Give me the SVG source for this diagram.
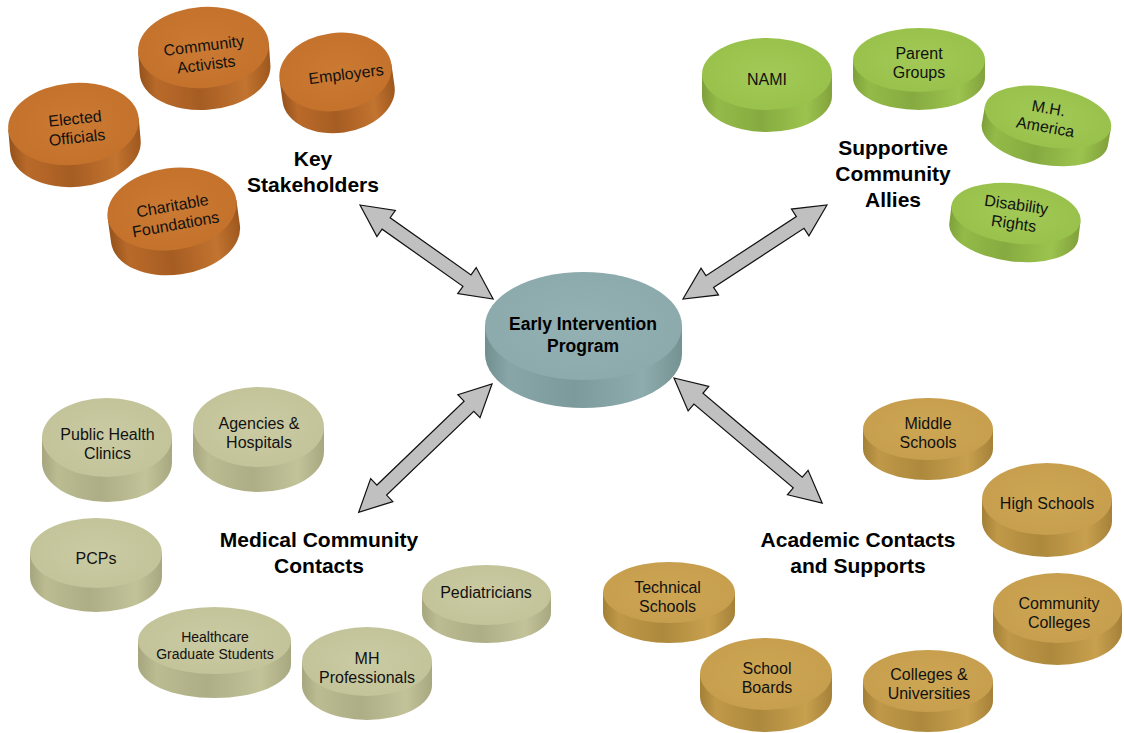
<svg xmlns="http://www.w3.org/2000/svg" width="1124" height="733" viewBox="0 0 1124 733">
<defs>
<radialGradient id="oTop" cx="0.5" cy="0.5" r="0.55"><stop offset="0" stop-color="#cb7a33"/><stop offset="1" stop-color="#c4722b"/></radialGradient>
<linearGradient id="oSide" x1="0" y1="0" x2="1" y2="0"><stop offset="0" stop-color="#96531c"/><stop offset="0.12" stop-color="#b96a2a"/><stop offset="0.45" stop-color="#a65d22"/><stop offset="0.8" stop-color="#c27430"/><stop offset="1" stop-color="#9e571d"/></linearGradient>
<radialGradient id="gTop" cx="0.5" cy="0.5" r="0.55"><stop offset="0" stop-color="#a2c956"/><stop offset="1" stop-color="#98c14b"/></radialGradient>
<linearGradient id="gSide" x1="0" y1="0" x2="1" y2="0"><stop offset="0" stop-color="#7ea03a"/><stop offset="0.12" stop-color="#93bb48"/><stop offset="0.45" stop-color="#86aa40"/><stop offset="0.8" stop-color="#9cc34e"/><stop offset="1" stop-color="#82a23c"/></linearGradient>
<radialGradient id="kTop" cx="0.5" cy="0.5" r="0.55"><stop offset="0" stop-color="#cbcba3"/><stop offset="1" stop-color="#c3c39a"/></radialGradient>
<linearGradient id="kSide" x1="0" y1="0" x2="1" y2="0"><stop offset="0" stop-color="#a6a67f"/><stop offset="0.12" stop-color="#bcbc92"/><stop offset="0.45" stop-color="#adad86"/><stop offset="0.8" stop-color="#c3c39a"/><stop offset="1" stop-color="#a8a880"/></linearGradient>
<radialGradient id="yTop" cx="0.5" cy="0.5" r="0.55"><stop offset="0" stop-color="#cda654"/><stop offset="1" stop-color="#c69e4d"/></radialGradient>
<linearGradient id="ySide" x1="0" y1="0" x2="1" y2="0"><stop offset="0" stop-color="#a38037"/><stop offset="0.12" stop-color="#c09848"/><stop offset="0.45" stop-color="#ad893d"/><stop offset="0.8" stop-color="#c8a04e"/><stop offset="1" stop-color="#a58139"/></linearGradient>
<radialGradient id="tTop" cx="0.5" cy="0.5" r="0.55"><stop offset="0" stop-color="#93b1b2"/><stop offset="1" stop-color="#8caaab"/></radialGradient>
<linearGradient id="tSide" x1="0" y1="0" x2="1" y2="0"><stop offset="0" stop-color="#728f90"/><stop offset="0.12" stop-color="#88a6a7"/><stop offset="0.45" stop-color="#7c9a9b"/><stop offset="0.8" stop-color="#8eacad"/><stop offset="1" stop-color="#759293"/></linearGradient>
</defs>
<style>
.n{font-family:"Liberation Sans",Arial,sans-serif;font-size:16px;fill:#111;text-anchor:middle}
.s{font-size:14px}
.h{font-family:"Liberation Sans",Arial,sans-serif;font-size:21px;font-weight:bold;fill:#000;text-anchor:middle}
.c{font-size:17.5px}
.arrow{fill:#c0c0c0;stroke:#111;stroke-width:1.2;stroke-linejoin:miter}
.o .top{fill:url(#oTop)} .o .side{fill:url(#oSide)}
.g .top{fill:url(#gTop)} .g .side{fill:url(#gSide)}
.k .top{fill:url(#kTop)} .k .side{fill:url(#kSide)}
.y .top{fill:url(#yTop)} .y .side{fill:url(#ySide)}
.t .top{fill:url(#tTop)} .t .side{fill:url(#tSide)}
</style>
<rect width="1124" height="733" fill="#fff"/>

<g id="connectors">
<path class="arrow" transform="translate(360,205) rotate(35.25)" d="M0,0 L32,-16 L32,-7 L131,-7 L131,-16 L163,0 L131,16 L131,7 L32,7 L32,16 Z"/>
<path class="arrow" transform="translate(827,205) rotate(146.87)" d="M0,0 L32,-16 L32,-7 L140,-7 L140,-16 L172,0 L140,16 L140,7 L32,7 L32,16 Z"/>
<path class="arrow" transform="translate(492,384) rotate(136.1)" d="M0,0 L32,-16 L32,-7 L153,-7 L153,-16 L185,0 L153,16 L153,7 L32,7 L32,16 Z"/>
<path class="arrow" transform="translate(674,378) rotate(40.18)" d="M0,0 L32,-16 L32,-7 L162,-7 L162,-16 L194,0 L162,16 L162,7 L32,7 L32,16 Z"/>
</g>

<g id="early-intervention" class="t">
<g transform="translate(583.5,326)">
<path class="side" d="M-98.5,0 L-98.5,28 A98.5,54 0 0 0 98.5,28 L98.5,0 Z"/>
<ellipse class="top" cx="0" cy="0" rx="98.5" ry="54"/>
</g>
<text class="h c" x="583" y="330">Early Intervention</text>
<text class="h c" x="583" y="352">Program</text>
</g>

<g id="label-key-stakeholders">
<text class="h" x="313" y="166">Key</text>
<text class="h" x="313" y="192">Stakeholders</text>
</g>
<g id="community-activists" class="o">
<g transform="translate(203.5,47.5) rotate(-4)">
<path class="side" d="M-65.5,0 L-65.5,22 A65.5,40.5 0 0 0 65.5,22 L65.5,0 Z"/>
<ellipse class="top" rx="65.5" ry="40.5"/>
</g>
<text class="n" transform="translate(205,55) rotate(-7)"><tspan x="0" y="-4">Community</tspan><tspan x="0" y="15">Activists</tspan></text>
</g>
<g id="elected-officials" class="o">
<g transform="translate(73.5,124) rotate(-5)">
<path class="side" d="M-65.5,0 L-65.5,22 A65.5,41 0 0 0 65.5,22 L65.5,0 Z"/>
<ellipse class="top" rx="65.5" ry="41"/>
</g>
<text class="n" transform="translate(76,128) rotate(-6)"><tspan x="0" y="-4">Elected</tspan><tspan x="0" y="15">Officials</tspan></text>
</g>
<g id="employers" class="o">
<g transform="translate(335.5,72) rotate(-8)">
<path class="side" d="M-56.5,0 L-56.5,22 A56.5,39 0 0 0 56.5,22 L56.5,0 Z"/>
<ellipse class="top" rx="56.5" ry="39"/>
</g>
<text class="n" transform="translate(346,74) rotate(-7)" x="0" y="5.6">Employers</text>
</g>
<g id="charitable-foundations" class="o">
<g transform="translate(172,209) rotate(-8)">
<path class="side" d="M-65,0 L-65,25 A65,41 0 0 0 65,25 L65,0 Z"/>
<ellipse class="top" rx="65" ry="41"/>
</g>
<text class="n" transform="translate(174,215) rotate(-10)"><tspan x="0" y="-4">Charitable</tspan><tspan x="0" y="15">Foundations</tspan></text>
</g>

<g id="label-supportive">
<text class="h" x="893" y="155">Supportive</text>
<text class="h" x="893" y="181">Community</text>
<text class="h" x="893" y="207">Allies</text>
</g>
<g id="nami" class="g">
<g transform="translate(767,74)">
<path class="side" d="M-65,0 L-65,22 A65,36 0 0 0 65,22 L65,0 Z"/>
<ellipse class="top" rx="65" ry="36"/>
</g>
<text class="n" x="767" y="85">NAMI</text>
</g>
<g id="parent-groups" class="g">
<g transform="translate(919,60)">
<path class="side" d="M-66,0 L-66,18 A66,32 0 0 0 66,18 L66,0 Z"/>
<ellipse class="top" rx="66" ry="32"/>
</g>
<text class="n" transform="translate(919,62.5)"><tspan x="0" y="-4">Parent</tspan><tspan x="0" y="15">Groups</tspan></text>
</g>
<g id="mh-america" class="g">
<g transform="translate(1048,117) rotate(10)">
<path class="side" d="M-64,0 L-64,18 A64,30 0 0 0 64,18 L64,0 Z"/>
<ellipse class="top" rx="64" ry="30"/>
</g>
<text class="n" transform="translate(1047,117.5) rotate(10)"><tspan x="0" y="-4">M.H.</tspan><tspan x="0" y="15">America</tspan></text>
</g>
<g id="disability-rights" class="g">
<g transform="translate(1016,213.5) rotate(7)">
<path class="side" d="M-65,0 L-65,18 A65,30 0 0 0 65,18 L65,0 Z"/>
<ellipse class="top" rx="65" ry="30"/>
</g>
<text class="n" transform="translate(1015,214) rotate(8)"><tspan x="0" y="-4">Disability</tspan><tspan x="0" y="15">Rights</tspan></text>
</g>

<g id="label-medical">
<text class="h" x="319" y="547">Medical Community</text>
<text class="h" x="319" y="573">Contacts</text>
</g>
<g id="public-health-clinics" class="k">
<g transform="translate(107,437.5)">
<path class="side" d="M-65,0 L-65,25 A65,39.5 0 0 0 65,25 L65,0 Z"/>
<ellipse class="top" rx="65" ry="39.5"/>
</g>
<text class="n" transform="translate(107.5,444)"><tspan x="0" y="-4">Public Health</tspan><tspan x="0" y="15">Clinics</tspan></text>
</g>
<g id="agencies-hospitals" class="k">
<g transform="translate(258.5,427)">
<path class="side" d="M-65.5,0 L-65.5,25 A65.5,40 0 0 0 65.5,25 L65.5,0 Z"/>
<ellipse class="top" rx="65.5" ry="40"/>
</g>
<text class="n" transform="translate(259,433)"><tspan x="0" y="-4">Agencies &amp;</tspan><tspan x="0" y="15">Hospitals</tspan></text>
</g>
<g id="pcps" class="k">
<g transform="translate(96,553)">
<path class="side" d="M-66,0 L-66,24 A66,35 0 0 0 66,24 L66,0 Z"/>
<ellipse class="top" rx="66" ry="35"/>
</g>
<text class="n" x="96" y="563.6">PCPs</text>
</g>
<g id="healthcare-graduate-students" class="k">
<g transform="translate(214.5,640.5)">
<path class="side" d="M-76.5,0 L-76.5,24 A76.5,33.5 0 0 0 76.5,24 L76.5,0 Z"/>
<ellipse class="top" rx="76.5" ry="33.5"/>
</g>
<text class="n s" transform="translate(215,646)"><tspan x="0" y="-4">Healthcare</tspan><tspan x="0" y="13">Graduate Students</tspan></text>
</g>
<g id="mh-professionals" class="k">
<g transform="translate(367,661.5)">
<path class="side" d="M-65,0 L-65,24 A65,34.5 0 0 0 65,24 L65,0 Z"/>
<ellipse class="top" rx="65" ry="34.5"/>
</g>
<text class="n" transform="translate(367,667.5)"><tspan x="0" y="-4">MH</tspan><tspan x="0" y="15">Professionals</tspan></text>
</g>
<g id="pediatricians" class="k">
<g transform="translate(486.5,595)">
<path class="side" d="M-64.5,0 L-64.5,18 A64.5,30 0 0 0 64.5,18 L64.5,0 Z"/>
<ellipse class="top" rx="64.5" ry="30"/>
</g>
<text class="n" x="486" y="598">Pediatricians</text>
</g>

<g id="label-academic">
<text class="h" x="858" y="547">Academic Contacts</text>
<text class="h" x="858" y="573">and Supports</text>
</g>
<g id="middle-schools" class="y">
<g transform="translate(928,429)">
<path class="side" d="M-65,0 L-65,20 A65,31 0 0 0 65,20 L65,0 Z"/>
<ellipse class="top" rx="65" ry="31"/>
</g>
<text class="n" transform="translate(928,433)"><tspan x="0" y="-4">Middle</tspan><tspan x="0" y="15">Schools</tspan></text>
</g>
<g id="high-schools" class="y">
<g transform="translate(1047,499)">
<path class="side" d="M-65,0 L-65,22 A65,36 0 0 0 65,22 L65,0 Z"/>
<ellipse class="top" rx="65" ry="36"/>
</g>
<text class="n" x="1047" y="508.6">High Schools</text>
</g>
<g id="community-colleges" class="y">
<g transform="translate(1057.5,608)">
<path class="side" d="M-64.5,0 L-64.5,22 A64.5,35 0 0 0 64.5,22 L64.5,0 Z"/>
<ellipse class="top" rx="64.5" ry="35"/>
</g>
<text class="n" transform="translate(1059,613)"><tspan x="0" y="-4">Community</tspan><tspan x="0" y="15">Colleges</tspan></text>
</g>
<g id="colleges-universities" class="y">
<g transform="translate(928,681)">
<path class="side" d="M-65,0 L-65,20 A65,31 0 0 0 65,20 L65,0 Z"/>
<ellipse class="top" rx="65" ry="31"/>
</g>
<text class="n" transform="translate(929,684)"><tspan x="0" y="-4">Colleges &amp;</tspan><tspan x="0" y="15">Universities</tspan></text>
</g>
<g id="school-boards" class="y">
<g transform="translate(766,674)">
<path class="side" d="M-66,0 L-66,22 A66,36 0 0 0 66,22 L66,0 Z"/>
<ellipse class="top" rx="66" ry="36"/>
</g>
<text class="n" transform="translate(767,678)"><tspan x="0" y="-4">School</tspan><tspan x="0" y="15">Boards</tspan></text>
</g>
<g id="technical-schools" class="y">
<g transform="translate(669,592.5)">
<path class="side" d="M-66,0 L-66,20 A66,30.5 0 0 0 66,20 L66,0 Z"/>
<ellipse class="top" rx="66" ry="30.5"/>
</g>
<text class="n" transform="translate(667.5,597)"><tspan x="0" y="-4">Technical</tspan><tspan x="0" y="15">Schools</tspan></text>
</g>
</svg>
